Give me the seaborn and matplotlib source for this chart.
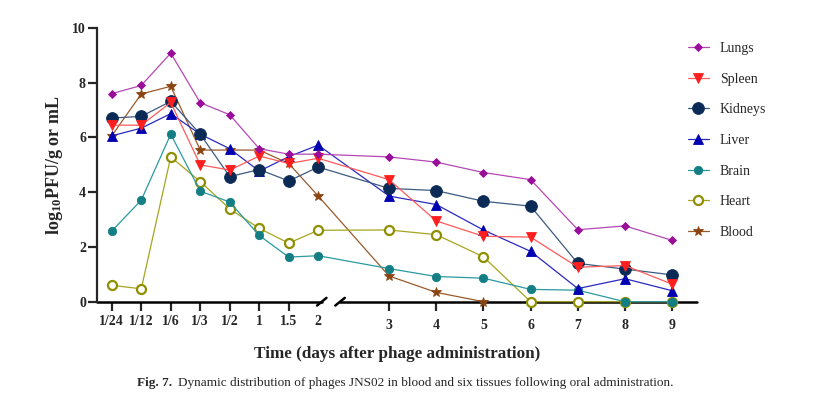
import numpy as np
import matplotlib
matplotlib.use("Agg")
import matplotlib.pyplot as plt
import seaborn as sns

# time points: evenly spaced early block, then a break, then days 3-9
left_labels = ["1/24", "1/12", "1/6", "1/3", "1/2", "1", "1.5", "2"]
right_days = [3, 4, 5, 6, 7, 8, 9]

# log10 PFU/g or mL
lungs = [7.60, 7.90, 9.08, 7.27, 6.83, 5.59, 5.39, 5.39, 5.29, 5.10, 4.72, 4.46, 2.63, 2.77, 2.24]
spleen = [6.45, 6.45, 7.28, 5.00, 4.81, 5.32, 5.05, 5.24, 4.46, 2.95, 2.39, 2.36, 1.26, 1.32, 0.64]
kidneys = [6.71, 6.77, 7.32, 6.12, 4.57, 4.83, 4.41, 4.92, 4.14, 4.06, 3.67, 3.49, 1.40, 1.19, 0.98]
liver = [6.06, 6.34, 6.87, 6.12, 5.59, 4.77, 5.30, 5.72, 3.86, 3.55, 2.62, 1.84, 0.48, 0.84, 0.40]
brain = [2.58, 3.71, 6.12, 4.04, 3.64, 2.42, 1.63, 1.68, 1.21, 0.92, 0.86, 0.45, 0.42, 0.0, 0.0]
heart = [0.60, 0.47, 5.29, 4.39, 3.39, 2.68, 2.14, 2.61, 2.62, 2.45, 1.64, 0.0, 0.0, 0.0, 0.0]
blood = [6.06, 7.59, 7.87, 5.54, 5.54, 5.54, 5.05, 3.86, 0.94, 0.34, 0.0,
         np.nan, np.nan, np.nan, np.nan]

sns.set_style("ticks")
plt.rcParams["font.family"] = ["Liberation Serif", "DejaVu Serif"]
plt.rcParams["mathtext.default"] = "regular"

# x positions: 1 unit per early slot, wider slots after the break
x_pos = list(range(len(left_labels))) + [9.4 + 1.6 * (d - 3) for d in right_days]
tick_labels = left_labels + [str(d) for d in right_days]

fig = plt.figure(figsize=(8.14, 4.15), dpi=100)
ax = fig.add_axes([97 / 814, 1 - 301.7 / 415, 600 / 814, 273.7 / 415])

# name, values, marker colour, line colour, marker, size, filled
series = [
    ("Lungs", lungs, "#9a0c9a", "#b548b5", "D", 4.5, True),
    ("Spleen", spleen, "#ff1f1f", "#ff5a5a", "v", 7, True),
    ("Kidneys", kidneys, "#0b2a55", "#3d5a80", "o", 8.5, True),
    ("Liver", liver, "#0000b0", "#2a2ac0", "^", 7, True),
    ("Brain", brain, "#137f85", "#2a9aa0", "o", 6, True),
    ("Heart", heart, "#8f8f00", "#a5a520", "o", 6.5, False),
    ("Blood", blood, "#8b4513", "#9a5a2a", "*", 7, True),
]

for name, vals, mcol, lcol, marker, ms, filled in reversed(series):
    sns.lineplot(x=x_pos, y=vals, ax=ax, color=lcol, linewidth=0.9,
                 marker=marker, markersize=ms,
                 markerfacecolor=mcol if filled else "white",
                 markeredgecolor=mcol,
                 markeredgewidth=0.6 if filled else 1.6,
                 errorbar=None, label=name, clip_on=False, zorder=3)

if ax.get_legend() is not None:
    ax.get_legend().remove()

ax.set_xlim(-0.5, 19.84)
ax.set_ylim(0, 10)

# broken x axis drawn by hand
for spine in ["top", "right", "bottom"]:
    ax.spines[spine].set_visible(False)
ax.spines["left"].set_linewidth(1.6)
ax.plot([-0.5, 7.12], [0, 0], color="black", lw=1.8, clip_on=False, zorder=2)
ax.plot([7.74, 19.84], [0, 0], color="black", lw=1.8, clip_on=False, zorder=2)
for xb in [7.12, 7.74]:
    ax.plot([xb - 0.16, xb + 0.16], [-0.14, 0.14], color="black", lw=1.8,
            clip_on=False, zorder=2)

ax.set_xticks(x_pos)
ax.set_xticklabels(tick_labels)
ax.set_yticks([0, 2, 4, 6, 8, 10])
ax.tick_params(axis="x", length=6.5, width=1.6, pad=3, labelsize=10)
ax.tick_params(axis="y", length=6.5, width=1.6, pad=1.5, labelsize=10)
ticks = ax.xaxis.get_major_ticks()
ticks[len(left_labels) - 1].tick1line.set_visible(False)
for t in ticks[len(left_labels):]:
    t.set_pad(6)
for lbl in ax.get_xticklabels() + ax.get_yticklabels():
    lbl.set_fontweight("bold")

ax.set_ylabel("log$_{10}$PFU/g or mL", fontsize=13, fontweight="bold", labelpad=5)
ax.set_xlabel("Time (days after phage administration)", fontsize=12.3,
              fontweight="bold", labelpad=10)

handles, labels = ax.get_legend_handles_labels()
lookup = dict(zip(labels, handles))
names = [s[0] for s in series]
fig.legend([lookup[n] for n in names], names, loc="upper left",
           bbox_to_anchor=(688 / 814, 1 - 42 / 415), frameon=False, fontsize=10,
           labelspacing=1.27, handlelength=1.5, handletextpad=0.8,
           borderpad=0, borderaxespad=0)

fig.text(137 / 814, 1 - 383 / 415, "Fig. 7.", fontsize=9.5, fontweight="bold",
         va="center")
fig.text(178 / 814, 1 - 383 / 415,
         "Dynamic distribution of phages JNS02 in blood and six tissues following oral administration.",
         fontsize=9.5, va="center")

fig.savefig("out.png", dpi=100)
